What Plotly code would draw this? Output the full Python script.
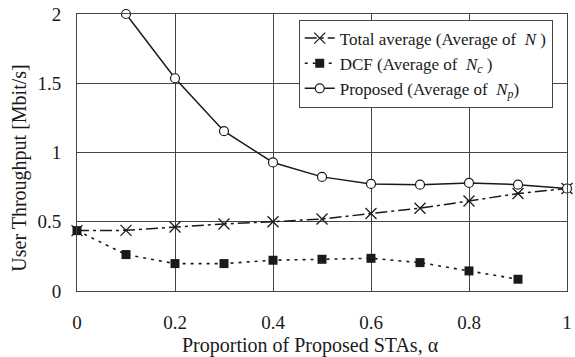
import plotly.graph_objects as go

# Proportion of proposed STAs
alpha = [0.0, 0.1, 0.2, 0.3, 0.4, 0.5, 0.6, 0.7, 0.8, 0.9, 1.0]

# User throughput [Mbit/s]
total_avg = [0.436, 0.438, 0.462, 0.484, 0.500, 0.520, 0.559, 0.598, 0.650, 0.704, 0.740]
dcf_alpha = [0.0, 0.1, 0.2, 0.3, 0.4, 0.5, 0.6, 0.7, 0.8, 0.9]
dcf_avg = [0.436, 0.263, 0.198, 0.198, 0.222, 0.229, 0.236, 0.205, 0.145, 0.085]
prop_alpha = [0.1, 0.2, 0.3, 0.4, 0.5, 0.6, 0.7, 0.8, 0.9, 1.0]
prop_avg = [2.0, 1.536, 1.154, 0.928, 0.824, 0.773, 0.768, 0.780, 0.768, 0.740]

x_ticks = [0, 0.2, 0.4, 0.6, 0.8, 1]
x_tick_text = ["0", "0.2", "0.4", "0.6", "0.8", "1"]
y_ticks = [0, 0.5, 1, 1.5, 2]
y_tick_text = ["0", "0.5", "1", "1.5", "2"]

FONT = "Liberation Serif, Times New Roman, serif"
INK = "#1a1a1a"

fig = go.Figure()

fig.add_trace(go.Scatter(
    x=alpha, y=total_avg, mode="lines+markers",
    name="Total average (Average of  <i>N</i> )",
    line=dict(color=INK, width=1.5, dash="12px,4px,3px,4px"),
    marker=dict(symbol="x-thin-open", size=11, color=INK, line=dict(width=1.3, color=INK)),
    cliponaxis=False,
))

fig.add_trace(go.Scatter(
    x=dcf_alpha, y=dcf_avg, mode="lines+markers",
    name="DCF (Average of  <i>N</i><sub><i>c</i></sub> )",
    line=dict(color=INK, width=1.6, dash="3px,5px"),
    marker=dict(symbol="square", size=9, color=INK),
    cliponaxis=False,
))

fig.add_trace(go.Scatter(
    x=prop_alpha, y=prop_avg, mode="lines+markers",
    name="Proposed (Average of  <i>N</i><sub><i>p</i></sub>)",
    line=dict(color=INK, width=1.5),
    marker=dict(symbol="circle", size=9, color="white", line=dict(width=1.2, color=INK)),
    cliponaxis=False,
))

fig.update_layout(
    width=575, height=357,
    margin=dict(l=77, r=3, t=14, b=66),
    paper_bgcolor="white", plot_bgcolor="white",
    font=dict(family=FONT, size=19, color=INK),
    showlegend=True,
    legend=dict(
        x=0.4525, y=0.98, xanchor="left", yanchor="top",
        bgcolor="white", bordercolor="#444", borderwidth=1,
        font=dict(family=FONT, size=17, color=INK),
        tracegroupgap=0, itemwidth=30,
    ),
    xaxis=dict(
        range=[0, 1], tickvals=x_ticks, ticktext=x_tick_text,
        showgrid=True, gridcolor="#444", gridwidth=1,
        showline=True, linecolor="#444", linewidth=1, mirror=True,
        zeroline=False, ticks="", ticklabelstandoff=14,
        ticklabeloverflow="allow",
        tickfont=dict(family=FONT, size=19),
    ),
    yaxis=dict(
        range=[0, 2], tickvals=y_ticks, ticktext=y_tick_text,
        showgrid=True, gridcolor="#444", gridwidth=1,
        showline=True, linecolor="#444", linewidth=1, mirror=True,
        zeroline=False, ticks="", ticklabelstandoff=11,
        tickfont=dict(family=FONT, size=19),
    ),
    annotations=[
        dict(text="Proportion of Proposed STAs, α", xref="paper", yref="paper",
             x=0.477, y=-0.195, xanchor="center", yanchor="middle",
             showarrow=False, font=dict(family=FONT, size=20, color=INK)),
        dict(text="User Throughput [Mbit/s]", xref="paper", yref="paper",
             x=-0.119, y=0.444, xanchor="center", yanchor="middle", textangle=-90,
             showarrow=False, font=dict(family=FONT, size=20, color=INK)),
    ],
)

fig.write_html("out.html")
